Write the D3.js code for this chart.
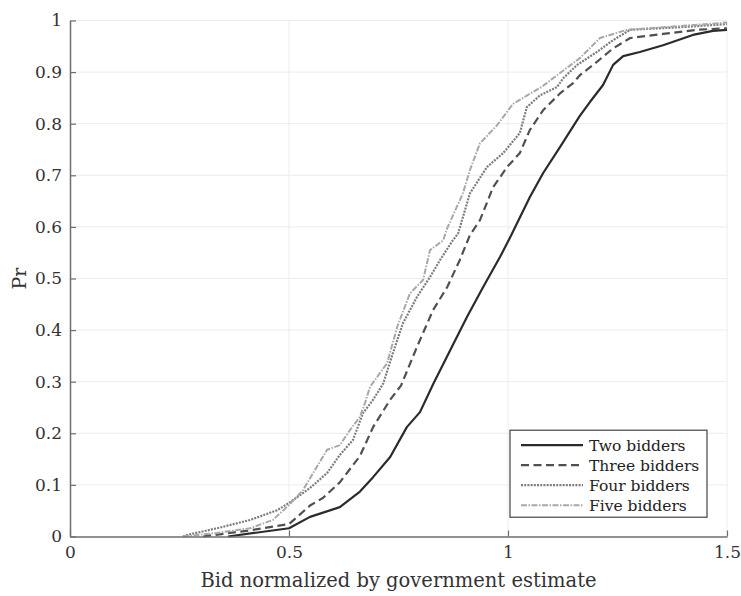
<!DOCTYPE html>
<html>
<head>
<meta charset="utf-8">
<script src="https://cdn.jsdelivr.net/npm/d3@7"></script>
<style>
  body { margin: 0; background: #fff; }
  svg { display: block; }
  text { font-family: "DejaVu Serif", serif; }
</style>
</head>
<body>
<div id="wrapper"></div>
<script>
const twoX = [0.361, 0.5, 0.548, 0.616, 0.662, 0.692, 0.731, 0.769, 0.799, 0.829, 0.868, 0.906, 0.943, 0.982, 1.005, 1.05, 1.08, 1.119, 1.164, 1.187, 1.217, 1.24, 1.263, 1.301, 1.354, 1.422, 1.468, 1.5];
const twoP = [0, 0.016, 0.038, 0.057, 0.087, 0.115, 0.154, 0.212, 0.241, 0.295, 0.361, 0.425, 0.483, 0.542, 0.58, 0.658, 0.704, 0.755, 0.815, 0.842, 0.875, 0.914, 0.931, 0.939, 0.952, 0.972, 0.98, 0.982];

const threeX = [0.304, 0.411, 0.5, 0.548, 0.578, 0.616, 0.662, 0.692, 0.731, 0.756, 0.792, 0.829, 0.861, 0.89, 0.913, 0.936, 0.966, 0.998, 1.027, 1.05, 1.08, 1.119, 1.148, 1.164, 1.203, 1.24, 1.279, 1.354, 1.432, 1.5];
const threeP = [0, 0.012, 0.024, 0.06, 0.075, 0.105, 0.156, 0.212, 0.265, 0.293, 0.367, 0.439, 0.483, 0.536, 0.584, 0.613, 0.677, 0.716, 0.743, 0.788, 0.826, 0.859, 0.878, 0.894, 0.92, 0.946, 0.966, 0.974, 0.982, 0.985];

const fourX = [0.258, 0.267, 0.336, 0.411, 0.473, 0.5, 0.548, 0.587, 0.616, 0.646, 0.669, 0.692, 0.715, 0.737, 0.76, 0.792, 0.822, 0.845, 0.874, 0.886, 0.913, 0.952, 0.989, 1.027, 1.043, 1.073, 1.112, 1.126, 1.158, 1.203, 1.24, 1.279, 1.393, 1.5];
const fourP = [0, 0.003, 0.016, 0.032, 0.051, 0.065, 0.094, 0.123, 0.158, 0.187, 0.239, 0.265, 0.296, 0.355, 0.413, 0.464, 0.503, 0.536, 0.574, 0.587, 0.665, 0.716, 0.743, 0.782, 0.832, 0.855, 0.871, 0.888, 0.914, 0.939, 0.962, 0.982, 0.987, 0.993];

const fiveX = [0.258, 0.336, 0.411, 0.463, 0.5, 0.532, 0.555, 0.587, 0.616, 0.639, 0.662, 0.674, 0.685, 0.724, 0.747, 0.776, 0.806, 0.822, 0.852, 0.861, 0.897, 0.913, 0.936, 0.975, 1.011, 1.05, 1.078, 1.112, 1.164, 1.21, 1.272, 1.354, 1.5];
const fiveP = [0, 0.007, 0.016, 0.032, 0.061, 0.09, 0.123, 0.168, 0.177, 0.206, 0.232, 0.26, 0.29, 0.336, 0.406, 0.471, 0.497, 0.555, 0.574, 0.597, 0.665, 0.71, 0.762, 0.797, 0.838, 0.858, 0.872, 0.894, 0.927, 0.966, 0.982, 0.987, 0.996];

const seriesNames = ['Two bidders', 'Three bidders', 'Four bidders', 'Five bidders'];
const xTicks = [0, 0.5, 1, 1.5];
const yTicks = [0, 0.1, 0.2, 0.3, 0.4, 0.5, 0.6, 0.7, 0.8, 0.9, 1];

const series = [
  { name: seriesNames[0], x: twoX, p: twoP, color: '#2b2b2b', dash: null, w: 2.2 },
  { name: seriesNames[1], x: threeX, p: threeP, color: '#505050', dash: '8,4.5', w: 2.2 },
  { name: seriesNames[2], x: fourX, p: fourP, color: '#7c7c7c', dash: '2,1.2', w: 2.2 },
  { name: seriesNames[3], x: fiveX, p: fiveP, color: '#a8a8a8', dash: '6,1.5,1.5,1.5', w: 2 }
];

const W = 741, H = 596;
const margin = { top: 20.5, right: 14, bottom: 59.5, left: 70 };
const width = W - margin.left - margin.right;
const height = H - margin.top - margin.bottom;

const svg = d3.select('#wrapper').append('svg')
  .attr('width', W)
  .attr('height', H);

const g = svg.append('g')
  .attr('transform', `translate(${margin.left},${margin.top})`);

const xscale = d3.scaleLinear().domain([0, 1.5]).range([0, width]);
const yscale = d3.scaleLinear().domain([0, 1]).range([height, 0]);

// grid
g.append('g').selectAll('line')
  .data(xTicks.slice(1))
  .join('line')
  .attr('x1', d => xscale(d)).attr('x2', d => xscale(d))
  .attr('y1', 0).attr('y2', height)
  .attr('stroke', '#ececec').attr('stroke-width', 1);

g.append('g').selectAll('line')
  .data(yTicks.slice(1))
  .join('line')
  .attr('x1', 0).attr('x2', width)
  .attr('y1', d => yscale(d)).attr('y2', d => yscale(d))
  .attr('stroke', '#ececec').attr('stroke-width', 1);

// curves
const line = d3.line()
  .x(d => xscale(d[0]))
  .y(d => yscale(d[1]));

series.forEach(s => {
  const pts = s.x.map((v, i) => [v, s.p[i]]);
  g.append('path')
    .datum(pts)
    .attr('fill', 'none')
    .attr('stroke', s.color)
    .attr('stroke-width', s.w)
    .attr('stroke-dasharray', s.dash)
    .attr('stroke-linejoin', 'round')
    .attr('d', line);
});

// axes (ticks point inward)
const xaxis = d3.axisBottom(xscale).tickValues(xTicks).tickFormat(d3.format('')).tickSizeInner(-6).tickSizeOuter(0).tickPadding(9);
const yaxis = d3.axisLeft(yscale).tickValues(yTicks).tickFormat(d3.format('')).tickSizeInner(-6).tickSizeOuter(0).tickPadding(8);

const gx = g.append('g').attr('transform', `translate(0,${height})`).call(xaxis);
const gy = g.append('g').call(yaxis);

[gx, gy].forEach(a => {
  a.select('.domain').attr('stroke', '#6e6e6e').attr('stroke-width', 1.5);
  a.selectAll('.tick line').attr('stroke', '#6e6e6e').attr('stroke-width', 1.2);
  a.selectAll('.tick text').attr('fill', '#333').attr('font-size', 17)
    .attr('font-family', '"DejaVu Serif", serif');
});

// axis labels
g.append('text')
  .attr('x', width / 2)
  .attr('y', height + 50)
  .attr('text-anchor', 'middle')
  .attr('font-size', 19.5)
  .attr('fill', '#333')
  .text('Bid normalized by government estimate');

g.append('text')
  .attr('transform', `translate(${-44},${height / 2}) rotate(-90)`)
  .attr('text-anchor', 'middle')
  .attr('font-size', 19)
  .attr('fill', '#333')
  .text('Pr');

// legend
const lg = g.append('g').attr('transform', `translate(${xscale(1.0) + 2},${yscale(0.206)})`);
lg.append('rect')
  .attr('width', 197).attr('height', 87)
  .attr('fill', '#fff').attr('stroke', '#444').attr('stroke-width', 1.2);

series.forEach((s, i) => {
  const yy = 15 + i * 20;
  lg.append('line')
    .attr('x1', 11).attr('x2', 73)
    .attr('y1', yy).attr('y2', yy)
    .attr('stroke', s.color)
    .attr('stroke-width', s.w)
    .attr('stroke-dasharray', s.dash);
  lg.append('text')
    .attr('x', 79).attr('y', yy + 6)
    .attr('font-size', 15.5)
    .attr('fill', '#222')
    .text(s.name);
});
</script>
</body>
</html>
